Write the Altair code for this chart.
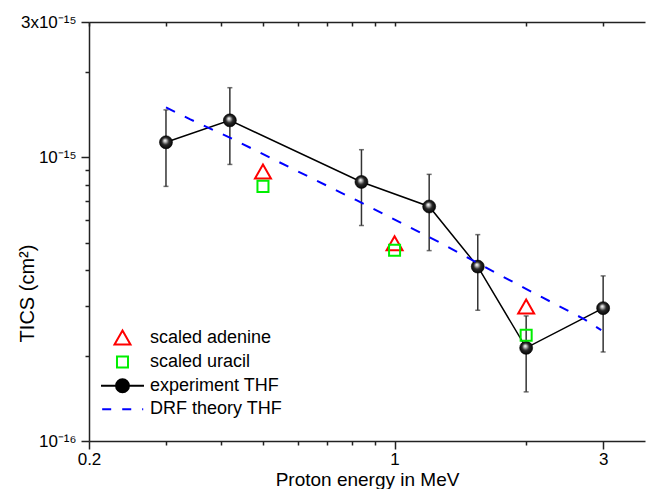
import altair as alt
import pandas as pd

# ---------------- data ----------------
exp_energy = [0.30, 0.42, 0.84, 1.20, 1.55, 2.00, 3.00]
exp_tics = [1.13e-15, 1.35e-15, 8.19e-16, 6.71e-16, 4.12e-16, 2.13e-16, 2.94e-16]
exp_lo = [7.9e-16, 9.44e-16, 5.75e-16, 4.69e-16, 2.89e-16, 1.49e-16, 2.06e-16]
exp_hi = [1.47e-15, 1.76e-15, 1.064e-15, 8.71e-16, 5.34e-16, 2.76e-16, 3.82e-16]

scaled_energy = [0.5, 1.0, 2.0]
adenine_tics = [8.91e-16, 4.98e-16, 2.98e-16]
uracil_tics = [7.9e-16, 4.70e-16, 2.36e-16]

drf_energy = [0.30, 0.341, 0.425, 0.527, 0.736, 0.818, 1.263, 1.723, 2.184, 2.72, 2.97]
drf_tics = [1.50e-15, 1.361e-15, 1.163e-15, 9.86e-16, 7.65e-16, 7.06e-16,
            5.03e-16, 3.88e-16, 3.20e-16, 2.685e-16, 2.46e-16]

series_names = ["scaled adenine", "scaled uracil", "experiment THF", "DRF theory THF"]
series_stroke = ["#ff0000", "#00ee00", "#000000", "#0000ff"]
series_fill = ["transparent", "transparent", "#000000", "transparent"]
series_shape = [
    "M0,-0.73L0.84,0.73L-0.84,0.73Z",
    "M-0.58,-0.58L0.58,-0.58L0.58,0.58L-0.58,0.58Z",
    "M-2.26,0L-0.68,0M0.68,0L2.26,0M-0.68,0A0.68,0.68,0,1,1,0.68,0A0.68,0.68,0,1,1,-0.68,0Z",
    "M-2.14,0L-1.19,0M-0.03,0L0.92,0M2.07,0L2.18,0",
]

x_domain = [0.2, 3.74]
y_domain = [1e-16, 3e-15]
x_ticks = [0.2, 0.3, 0.4, 0.5, 0.6, 0.7, 0.8, 0.9, 1, 2, 3]
x_major = [0.2, 1, 3]
x_major_labels = ["0.2", "1", "3"]
y_ticks = [1e-16, 2e-16, 3e-16, 4e-16, 5e-16, 6e-16, 7e-16, 8e-16, 9e-16, 1e-15, 2e-15, 3e-15]
y_major = [1e-16, 1e-15, 3e-15]
y_major_labels = ["10\u207b\u00b9\u2076", "10\u207b\u00b9\u2075", "3x10\u207b\u00b9\u2075"]

exp_df = pd.DataFrame({"energy": exp_energy, "tics": exp_tics, "lo": exp_lo, "hi": exp_hi})
scaled_df = pd.DataFrame({
    "energy": scaled_energy + scaled_energy,
    "tics": adenine_tics + uracil_tics,
    "series": [series_names[0]] * 3 + [series_names[1]] * 3,
})
drf_df = pd.DataFrame({"energy": drf_energy, "tics": drf_tics})

FONT = "Liberation Sans"
AX = "#222222"


def is_major(vals):
    return " || ".join(f"abs(datum.value/{v:g}-1)<0.001" for v in vals)


def label_expr(vals, labels):
    expr = "''"
    for v, l in reversed(list(zip(vals, labels))):
        expr = f"abs(datum.value/{v:g}-1)<0.001 ? '{l}' : ({expr})"
    return expr


common_axis = dict(grid=False, domainColor=AX, tickColor=AX, domainWidth=1.5, tickWidth=1.5,
                   labelFont=FONT, labelFontSize=17, labelColor="#000000",
                   titleFont=FONT, titleFontSize=20, titleFontWeight="normal", titleColor="#000000")

x_axis = alt.Axis(values=x_ticks, labelExpr=label_expr(x_major, x_major_labels),
                  tickSize={"condition": {"test": is_major(x_major), "value": 8}, "value": 4},
                  labelPadding=2, labelFlush=False, labelOverlap=False,
                  title="Proton energy in MeV", titleBaseline="alphabetic", titleY=44,
                  **{**common_axis, "titleFontSize": 19})
x_top = alt.Axis(orient="top", values=x_ticks, labels=False, title=None,
                 tickSize={"expr": "-4"}, **common_axis)
y_axis = alt.Axis(values=y_ticks, labelExpr=label_expr(y_major, y_major_labels),
                  tickSize={"condition": {"test": is_major(y_major), "value": 8}, "value": 4},
                  labelPadding=5, labelFlush=False, labelOverlap=False,
                  title="TICS (cm\u00b2)", titleAngle=270, titleAlign="center",
                  titleBaseline="alphabetic", titleX=-56, titleY=271,
                  **common_axis)

xs = alt.Scale(type="log", domain=x_domain, nice=False)
ys = alt.Scale(type="log", domain=y_domain, nice=False)


def X(axis):
    return alt.X("energy:Q", scale=xs, axis=axis)


def Y(field="tics"):
    return alt.Y(f"{field}:Q", scale=ys, axis=y_axis)


errbar = alt.Chart(exp_df).mark_rule(color="#333333", strokeWidth=1.5).encode(
    x=X(x_axis), y=Y("lo"), y2="hi")
cap_lo = alt.Chart(exp_df).mark_tick(color="#333333", orient="horizontal", size=5, thickness=1.5).encode(
    x=X(None), y=Y("lo"))
cap_hi = alt.Chart(exp_df).mark_tick(color="#333333", orient="horizontal", size=5, thickness=1.5).encode(
    x=X(None), y=Y("hi"))

exp_line = alt.Chart(exp_df).mark_line(color="#000000", strokeWidth=1.5).encode(x=X(None), y=Y())

sphere_fill = {
    "gradient": "radial",
    "x1": 0.42, "y1": 0.35, "r1": 0.0,
    "x2": 0.5, "y2": 0.5, "r2": 0.55,
    "stops": [
        {"offset": 0.0, "color": "#ffffff"},
        {"offset": 0.18, "color": "#c8c8c8"},
        {"offset": 0.5, "color": "#2a2a2a"},
        {"offset": 1.0, "color": "#000000"},
    ],
}
exp_pts = alt.Chart(exp_df).mark_point(shape="circle", filled=True, fill=sphere_fill, size=169,
                                       stroke="#000000", strokeWidth=0.6, opacity=1).encode(
    x=X(None), y=Y())

legend = alt.Legend(title=None, orient="none", legendX=23, legendY=305, padding=0,
                    symbolSize=361, symbolStrokeWidth=2, labelFont=FONT, labelFontSize=18,
                    labelColor="#000000", labelOffset=17, rowPadding=2.6, labelLimit=300)

scaled_pts = alt.Chart(scaled_df).mark_point(filled=True, size=361, strokeWidth=2, opacity=1).encode(
    x=X(None), y=Y(),
    shape=alt.Shape("series:N", scale=alt.Scale(domain=series_names, range=series_shape), legend=legend),
    stroke=alt.Stroke("series:N", scale=alt.Scale(domain=series_names, range=series_stroke), legend=legend),
    fill=alt.Fill("series:N", scale=alt.Scale(domain=series_names, range=series_fill), legend=legend),
)

drf_line = alt.Chart(drf_df).mark_line(color="#0000ff", strokeWidth=2, strokeDash=[10, 11]).encode(
    x=X(x_top), y=Y())

chart = alt.layer(errbar, cap_lo, cap_hi, exp_line, exp_pts, scaled_pts, drf_line).resolve_axis(
    x="independent"
).properties(
    width=556, height=419,
    autosize=alt.AutoSizeParams(type="none"),
    padding={"left": 81, "top": 14, "right": 1, "bottom": 48},
    background="#ffffff",
).configure_view(stroke=None)

chart.save("out.html", embed_options={"renderer": "svg", "actions": False})
